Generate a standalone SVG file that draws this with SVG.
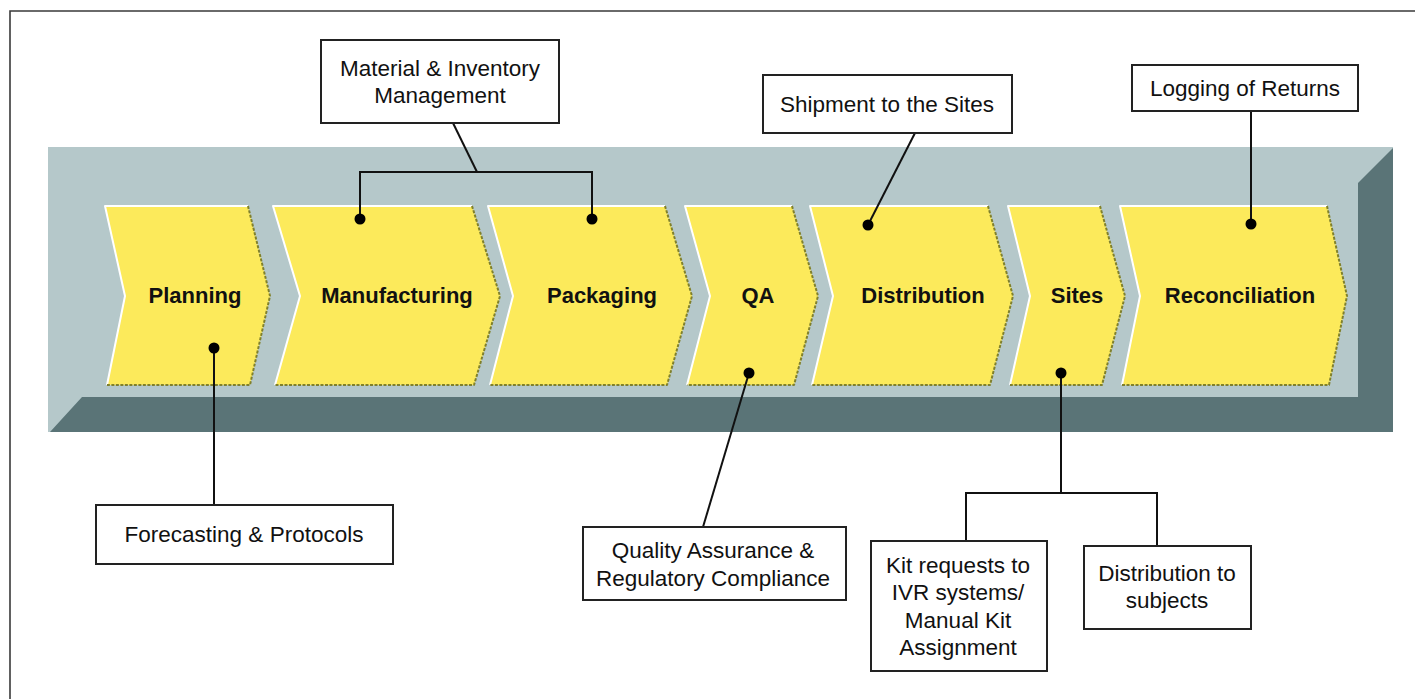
<svg xmlns="http://www.w3.org/2000/svg" width="1415" height="699" viewBox="0 0 1415 699">
  <defs>
    <style>
      .frame { fill: none; stroke: #3a3a3a; stroke-width: 1.6; }
      .band { fill: #b5c8ca; }
      .bandDark { fill: #5a7477; }
      .chev { fill: #fcea5b; }
      .hi { fill: none; stroke: #ffffff; stroke-width: 2; stroke-linejoin: round; }
      .sh { fill: none; stroke: #80802c; stroke-width: 2; stroke-dasharray: 3 1.5; stroke-linejoin: round; }
      .step { font-family: "Liberation Sans", Arial, sans-serif; font-weight: bold; font-size: 22px; fill: #111; text-anchor: middle; }
      .box { fill: #ffffff; stroke: #222; stroke-width: 2; }
      .note { font-family: "Liberation Sans", Arial, sans-serif; font-size: 22.5px; fill: #111; text-anchor: middle; }
      .wire { fill: none; stroke: #111; stroke-width: 2; }
      .dot { fill: #000; }
    </style>
  </defs>

  <rect x="0" y="0" width="1415" height="699" fill="#ffffff"/>
  <!-- outer frame (top and left edges) -->
  <polyline class="frame" points="10,699 10,11 1415,11"/>

  <!-- process band -->
  <g id="band">
    <rect class="band" x="48" y="147" width="1345" height="285"/>
    <polygon class="bandDark" points="50,432 82,397 1358,397 1358,183 1393,148 1393,432"/>
  </g>

  <!-- process steps -->
  <g id="step-planning">
    <polygon class="chev" points="105,206 248,206 270,296 250,385 107,385 125,296"/>
    <polyline class="hi" points="248,206 105,206 125,296 107,385"/>
    <polyline class="sh" points="248,206 270,296 250,385 107,385"/>
    <text class="step" x="195" y="303">Planning</text>
  </g>
  <g id="step-manufacturing">
    <polygon class="chev" points="273,206 472,206 500,296 474,385 275,385 300,296"/>
    <polyline class="hi" points="472,206 273,206 300,296 275,385"/>
    <polyline class="sh" points="472,206 500,296 474,385 275,385"/>
    <text class="step" x="397" y="303">Manufacturing</text>
  </g>
  <g id="step-packaging">
    <polygon class="chev" points="488,206 665,206 692,296 667,385 490,385 513,296"/>
    <polyline class="hi" points="665,206 488,206 513,296 490,385"/>
    <polyline class="sh" points="665,206 692,296 667,385 490,385"/>
    <text class="step" x="602" y="303">Packaging</text>
  </g>
  <g id="step-qa">
    <polygon class="chev" points="685,206 792,206 818,296 794,385 687,385 710,296"/>
    <polyline class="hi" points="792,206 685,206 710,296 687,385"/>
    <polyline class="sh" points="792,206 818,296 794,385 687,385"/>
    <text class="step" x="758" y="303">QA</text>
  </g>
  <g id="step-distribution">
    <polygon class="chev" points="810,206 988,206 1013,296 990,385 812,385 833,296"/>
    <polyline class="hi" points="988,206 810,206 833,296 812,385"/>
    <polyline class="sh" points="988,206 1013,296 990,385 812,385"/>
    <text class="step" x="923" y="303">Distribution</text>
  </g>
  <g id="step-sites">
    <polygon class="chev" points="1008,206 1100,206 1125,296 1102,385 1010,385 1030,296"/>
    <polyline class="hi" points="1100,206 1008,206 1030,296 1010,385"/>
    <polyline class="sh" points="1100,206 1125,296 1102,385 1010,385"/>
    <text class="step" x="1077" y="303">Sites</text>
  </g>
  <g id="step-reconciliation">
    <polygon class="chev" points="1120,206 1327,206 1347,296 1329,385 1122,385 1140,296"/>
    <polyline class="hi" points="1327,206 1120,206 1140,296 1122,385"/>
    <polyline class="sh" points="1327,206 1347,296 1329,385 1122,385"/>
    <text class="step" x="1240" y="303">Reconciliation</text>
  </g>

  <!-- connectors -->
  <g id="connectors">
    <polyline class="wire" points="453,123 477,172"/>
    <polyline class="wire" points="360,219 360,172 592,172 592,219"/>
    <line class="wire" x1="915" y1="133" x2="868" y2="225"/>
    <line class="wire" x1="1251" y1="111" x2="1251" y2="224"/>
    <line class="wire" x1="214" y1="348" x2="214" y2="505"/>
    <line class="wire" x1="749" y1="373" x2="703" y2="527"/>
    <polyline class="wire" points="1061,373 1061,493"/>
    <polyline class="wire" points="966,541 966,493 1157,493 1157,546"/>
    <circle class="dot" cx="214" cy="348" r="5.5"/>
    <circle class="dot" cx="360" cy="219" r="5.5"/>
    <circle class="dot" cx="592" cy="219" r="5.5"/>
    <circle class="dot" cx="749" cy="373" r="5.5"/>
    <circle class="dot" cx="868" cy="225" r="5.5"/>
    <circle class="dot" cx="1061" cy="373" r="5.5"/>
    <circle class="dot" cx="1251" cy="224" r="5.5"/>
  </g>

  <!-- annotation boxes -->
  <g id="note-material">
    <rect class="box" x="321" y="40" width="238" height="83"/>
    <text class="note" x="440" y="76">Material &amp; Inventory</text>
    <text class="note" x="440" y="103">Management</text>
  </g>
  <g id="note-shipment">
    <rect class="box" x="763" y="75" width="249" height="58"/>
    <text class="note" x="887" y="112">Shipment to the Sites</text>
  </g>
  <g id="note-logging">
    <rect class="box" x="1132" y="65" width="226" height="46"/>
    <text class="note" x="1245" y="96">Logging of Returns</text>
  </g>
  <g id="note-forecasting">
    <rect class="box" x="96" y="505" width="297" height="59"/>
    <text class="note" x="244" y="542">Forecasting &amp; Protocols</text>
  </g>
  <g id="note-quality">
    <rect class="box" x="583" y="527" width="263" height="73"/>
    <text class="note" x="713" y="558">Quality Assurance &amp;</text>
    <text class="note" x="713" y="586">Regulatory Compliance</text>
  </g>
  <g id="note-kit">
    <rect class="box" x="871" y="541" width="176" height="130"/>
    <text class="note" x="958" y="573">Kit requests to</text>
    <text class="note" x="958" y="600">IVR systems/</text>
    <text class="note" x="958" y="628">Manual Kit</text>
    <text class="note" x="958" y="655">Assignment</text>
  </g>
  <g id="note-subjects">
    <rect class="box" x="1084" y="546" width="167" height="83"/>
    <text class="note" x="1167" y="581">Distribution to</text>
    <text class="note" x="1167" y="608">subjects</text>
  </g>
</svg>
